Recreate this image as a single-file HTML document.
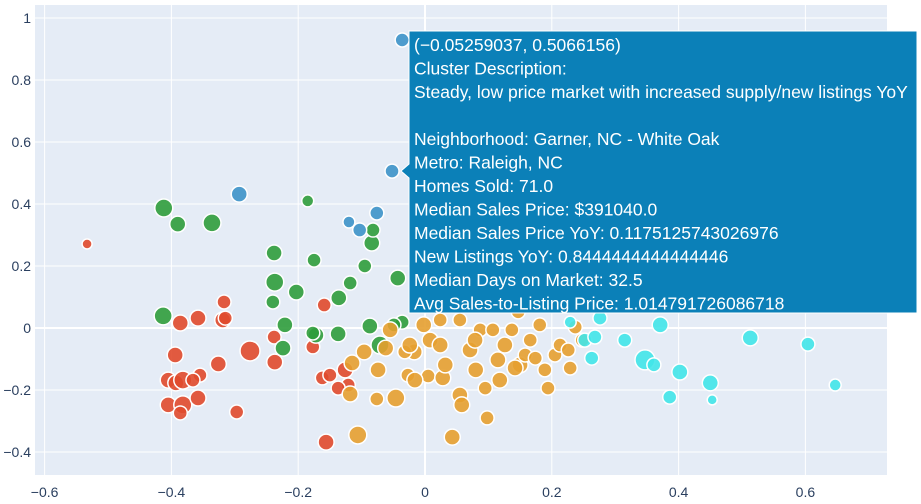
<!DOCTYPE html>
<html><head><meta charset="utf-8"><style>
html,body{margin:0;padding:0;background:#fff;}
svg{display:block;font-family:"Liberation Sans",Arial,sans-serif;}
</style></head><body>
<svg id="chart" width="921" height="504">
<rect x="35" y="5" width="852" height="470" fill="#e5ecf6"/>
<g id="grid"></g><g id="ticks"></g><g id="marks"></g><g id="tip"></g>
</svg>
<script>
const xTicks=[-0.6,-0.4,-0.2,0,0.2,0.4,0.6];
const yTicks=[-0.4,-0.2,0,0.2,0.4,0.6,0.8,1];
const redPts=[[-0.533,0.271,5],[-0.386,0.016,8],[-0.394,-0.087,8],[-0.405,-0.168,8],[-0.393,-0.177,8],[-0.382,-0.168,9],[-0.405,-0.248,8],[-0.382,-0.248,9],[-0.386,-0.274,7],[-0.358,-0.226,8],[-0.355,-0.152,7],[-0.366,-0.168,7],[-0.326,-0.116,8],[-0.319,0.026,8],[-0.315,0.032,7],[-0.317,0.084,7],[-0.297,-0.271,7],[-0.276,-0.074,10],[-0.237,-0.11,8],[-0.238,-0.029,7],[-0.177,-0.061,7],[-0.159,0.074,7],[-0.162,-0.161,7],[-0.15,-0.152,7],[-0.126,-0.135,8],[-0.121,-0.184,7],[-0.156,-0.368,8],[-0.358,0.032,8],[-0.137,-0.194,7]];
const greenPts=[[-0.412,0.387,9],[-0.39,0.335,8],[-0.336,0.339,9],[-0.413,0.039,9],[-0.238,0.242,8],[-0.237,0.148,9],[-0.24,0.084,7],[-0.203,0.116,8],[-0.221,0.01,8],[-0.224,-0.065,8],[-0.185,0.41,6],[-0.175,0.219,7],[-0.172,-0.023,8],[-0.136,0.097,8],[-0.118,0.145,7],[-0.095,0.2,7],[-0.084,0.274,8],[-0.082,0.316,7],[-0.043,0.161,8],[-0.087,0.006,8],[-0.071,-0.055,9],[-0.137,-0.019,8],[-0.036,0.019,7],[-0.049,0.01,7],[-0.177,-0.016,7]];
const bluePts=[[-0.293,0.432,8],[-0.036,0.929,7],[-0.052,0.506,7],[-0.12,0.342,6],[-0.103,0.316,7],[-0.076,0.371,7]];
const orangePts=[[-0.115,-0.113,8],[-0.118,-0.213,8],[-0.106,-0.345,9],[-0.076,-0.229,7],[-0.062,-0.065,8],[-0.046,-0.226,9],[-0.027,-0.152,7],[-0.017,-0.077,8],[0.008,-0.039,8],[0.005,-0.155,7],[0.024,-0.055,8],[0.028,-0.161,8],[0.043,-0.352,8],[0.055,-0.216,8],[0.055,0.026,7],[0.071,-0.071,8],[0.08,-0.135,8],[0.095,-0.194,7],[0.087,-0.006,7],[0.107,-0.006,7],[0.115,-0.103,8],[0.126,-0.055,8],[0.137,-0.006,7],[0.15,-0.119,8],[0.158,-0.087,7],[0.147,0.052,7],[0.166,-0.039,7],[0.181,0.01,7],[0.189,-0.135,7],[0.194,-0.194,7],[0.205,-0.087,7],[0.213,-0.055,7],[0.229,-0.129,7],[0.237,0.003,7],[0.248,-0.039,7],[0.098,-0.29,7],[0.058,-0.248,8],[0.032,-0.119,8],[-0.016,-0.168,8],[-0.032,-0.077,7],[-0.074,-0.135,8],[-0.096,-0.077,8],[-0.055,-0.006,8],[-0.002,0.01,8],[0.079,-0.039,8],[0.118,-0.168,8],[0.142,-0.129,8],[0.174,-0.097,7],[0.226,-0.071,7],[0.024,0.026,7],[-0.024,-0.055,8]];
const cyanPts=[[0.229,0.019,6],[0.252,-0.039,7],[0.263,-0.097,7],[0.268,-0.029,7],[0.315,-0.039,7],[0.347,-0.103,10],[0.371,0.01,8],[0.361,-0.119,7],[0.402,-0.142,8],[0.386,-0.223,7],[0.45,-0.177,8],[0.453,-0.232,5],[0.513,-0.032,8],[0.604,-0.052,7],[0.647,-0.184,6],[0.276,0.032,7]];
const tipLines=["(\u22120.05259037, 0.5066156)","Cluster Description:","Steady, low price market with increased supply/new listings YoY","","Neighborhood: Garner, NC - White Oak","Metro: Raleigh, NC","Homes Sold: 71.0","Median Sales Price: $391040.0","Median Sales Price YoY: 0.1175125743026976","New Listings YoY: 0.8444444444444446","Median Days on Market: 32.5","Avg Sales-to-Listing Price: 1.014791726086718"];
const NS="http://www.w3.org/2000/svg";
const X=v=>425+v*634, Y=v=>328-v*310;
function mk(t,a,p){const e=document.createElementNS(NS,t);for(const k in a)e.setAttribute(k,a[k]);p.appendChild(e);return e;}
const grid=document.getElementById('grid'),ticks=document.getElementById('ticks'),marks=document.getElementById('marks'),tip=document.getElementById('tip');
xTicks.forEach(t=>{
 const l=mk('line',{x1:X(t),x2:X(t),y1:5,y2:475,stroke:'#fff','stroke-width':t===0?2:1},grid);
 
 
 const tx=mk('text',{x:X(t),y:497,'text-anchor':'middle','font-size':14,fill:'#2a3f5f'},ticks);
 tx.textContent=(t<0?'\u2212':'')+Math.abs(t).toString();
 
 
});
yTicks.forEach(t=>{
 const l=mk('line',{x1:35,x2:887,y1:Y(t),y2:Y(t),stroke:'#fff','stroke-width':t===0?2:1},grid);
 
 
 const tx=mk('text',{x:31,y:Y(t)+5,'text-anchor':'end','font-size':14,fill:'#2a3f5f'},ticks);
 tx.textContent=(t<0?'\u2212':'')+Math.abs(t).toString();
 
 
});
[[redPts,'#e04a2c','red'],[greenPts,'#2f9d3c','green'],[orangePts,'#e5a030','orange'],[cyanPts,'#41e6e9','cyan'],[bluePts,'#3d93c9','blue']].forEach(([pts,c,n])=>{
 pts.forEach(p=>{
  const ci=mk('circle',{cx:X(p[0]),cy:Y(p[1]),r:p[2],fill:c,'fill-opacity':0.9,stroke:'#fff','stroke-width':1.5},marks);
  
  
 });
});
const bx=mk('path',{d:'M409 31 H917 V313 H409 V178 L401 171 L409 164 Z',fill:'#0b80b8',stroke:'#fff','stroke-width':1},tip);


tipLines.forEach((s,i)=>{
 const t=mk('text',{x:414,y:51+i*23.5,'font-size':17.5,fill:'#fff'},tip);
 t.textContent=s;
 
 
});
</script>
</body></html>
